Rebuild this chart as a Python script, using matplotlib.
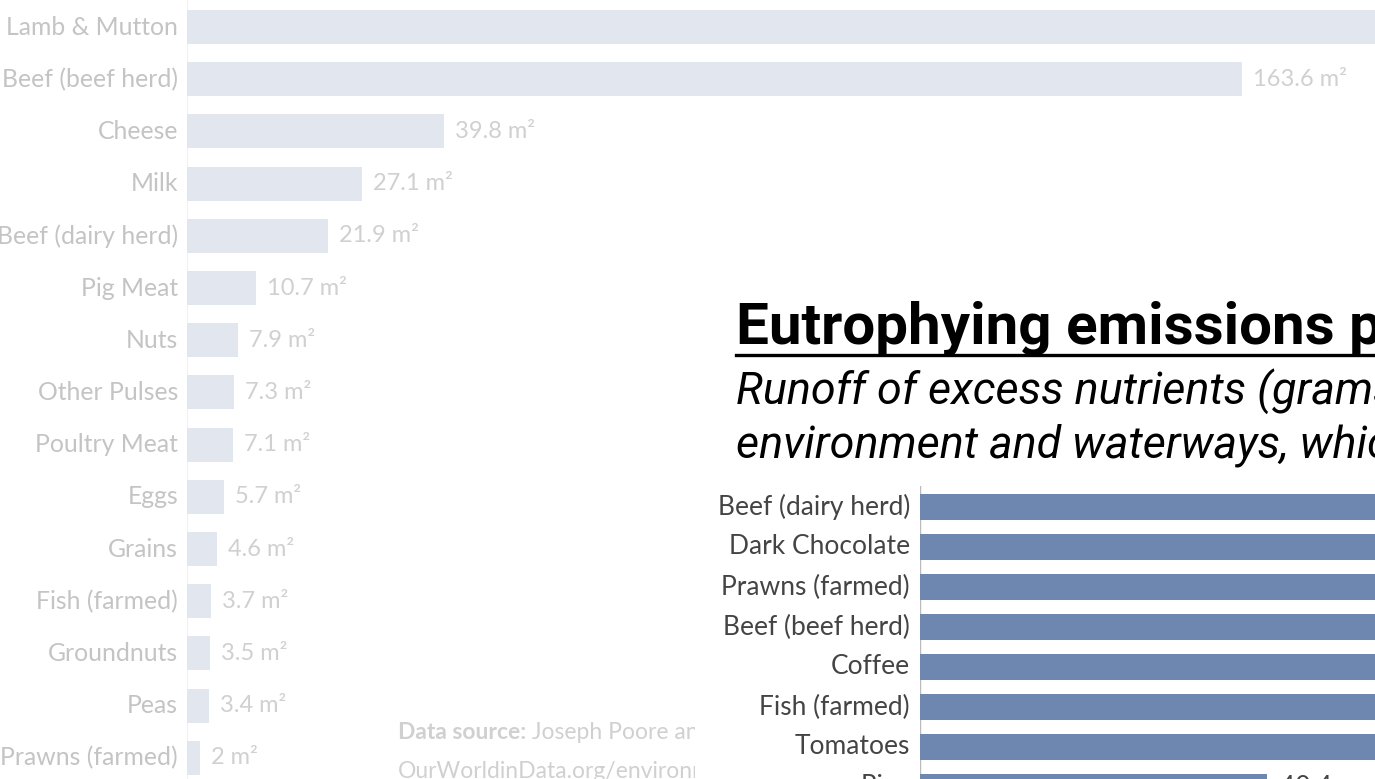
import matplotlib
matplotlib.use("Agg")
import matplotlib.pyplot as plt
from matplotlib.lines import Line2D

# background chart: land use per 1000 kcal (faded)
land_foods = ['Lamb & Mutton', 'Beef (beef herd)', 'Cheese', 'Milk', 'Beef (dairy herd)',
              'Pig Meat', 'Nuts', 'Other Pulses', 'Poultry Meat', 'Eggs', 'Grains',
              'Fish (farmed)', 'Groundnuts', 'Peas', 'Prawns (farmed)']
land_use = [185.0, 163.6, 39.8, 27.1, 21.9, 10.7, 7.9, 7.3, 7.1, 5.7, 4.6, 3.7, 3.5, 3.4, 2.0]
land_text = ['185 m²', '163.6 m²', '39.8 m²', '27.1 m²', '21.9 m²', '10.7 m²', '7.9 m²',
             '7.3 m²', '7.1 m²', '5.7 m²', '4.6 m²', '3.7 m²', '3.5 m²', '3.4 m²', '2 m²']

# front chart: eutrophying emissions (grams PO4eq)
eutro_foods = ['Beef (dairy herd)', 'Dark Chocolate', 'Prawns (farmed)', 'Beef (beef herd)',
               'Coffee', 'Fish (farmed)', 'Tomatoes', 'Rice']
eutro_vals = [365.3, 260.0, 197.5, 150.1, 110.5, 95.1, 70.3, 40.4]

W, H = 1375, 779
fig = plt.figure(figsize=(W / 100, H / 100), dpi=100)
fig.patch.set_facecolor('white')

grey_txt = '#c4c4c4'
lato = 'Lato'

# ---------- background chart ----------
ax_bg = fig.add_axes([187 / W, 0, (W - 187) / W, 1])
ax_bg.set_xlim(0, (W - 187) / 6.449)
ax_bg.set_ylim((H - 27) / 52.2, -27 / 52.2)
ax_bg.axis('off')
ax_bg.axvline(0, color='#ededed', lw=1.2, zorder=1)
rows = range(len(land_foods))
ax_bg.barh(list(rows), land_use, height=0.65, color='#e1e6ef', zorder=2)
for i in rows:
    ax_bg.text(-0.0075, i, land_foods[i], transform=ax_bg.get_yaxis_transform(),
               ha='right', va='center', fontsize=17.8, family=lato, color=grey_txt, clip_on=False)
    ax_bg.annotate(land_text[i], xy=(land_use[i], i), xytext=(8, 0), textcoords='offset points',
                   ha='left', va='center', fontsize=17, family=lato, color='#d0d0d0',
                   annotation_clip=False)

src = ax_bg.text(398 / W, 1 - 739 / H, 'Data source:', transform=fig.transFigure, fontsize=16.5,
                 family=lato, fontweight='bold', color='#d0d0d0', va='baseline')
ax_bg.annotate(' Joseph Poore and Thomas Nemecek (2018), Science', xy=(1, 0), xycoords=src,
               fontsize=16.5, family=lato, color='#d0d0d0', va='bottom', annotation_clip=False)
ax_bg.text(398 / W, 1 - 778 / H, 'OurWorldinData.org/environmental-impacts-of-food',
           transform=fig.transFigure, fontsize=16.5, family=lato, color='#d0d0d0', va='baseline')

# ---------- front panel ----------
panel = fig.add_axes([695 / W, 0, (W - 695) / W, (H - 292) / H], zorder=5)
panel.set_facecolor('white')
panel.set_xticks([])
panel.set_yticks([])
for s in panel.spines.values():
    s.set_visible(False)

fig.text(736 / W, 1 - 343 / H, 'Eutrophying emissions per 1000 kilocalories',
         fontsize=42, family='Roboto', fontweight='bold', color='black', va='baseline', zorder=6)
fig.add_artist(Line2D([736 / W, 1.0], [1 - 355 / H, 1 - 355 / H], color='black', lw=2.4, zorder=6))
fig.text(736 / W, 1 - 404 / H,
         'Runoff of excess nutrients (grams of phosphate equivalents; PO₄eq) into the surrounding',
         fontsize=32.3, family='Roboto', style='italic', color='black', va='baseline', zorder=6)
fig.text(736 / W, 1 - 457 / H,
         'environment and waterways, which affect and pollute ecosystems.',
         fontsize=32.3, family='Roboto', style='italic', color='black', va='baseline', zorder=6)

ax = fig.add_axes([920 / W, 0, (W - 920) / W, (H - 486) / H], zorder=7)
ax.set_xlim(0, (W - 920) / 8.6)
ax.set_ylim((H - 507) / 40, -21 / 40)
ax.axis('off')
ax.axvline(0, color='#bbbbbb', lw=1.0, zorder=1)
erows = list(range(len(eutro_foods)))
ax.barh(erows, eutro_vals, height=0.65, color='#6e87b0', zorder=2)
for i in erows:
    ax.text(-0.022, i, eutro_foods[i], transform=ax.get_yaxis_transform(), ha='right',
            va='center', fontsize=19, family=lato, color='#444444', clip_on=False)
    ax.annotate('%.1f g' % eutro_vals[i], xy=(eutro_vals[i], i), xytext=(9, 0),
                textcoords='offset points', ha='left', va='center', fontsize=19,
                family=lato, color='#444444', annotation_clip=False)

fig.savefig('out.png', dpi=100, facecolor='white')
